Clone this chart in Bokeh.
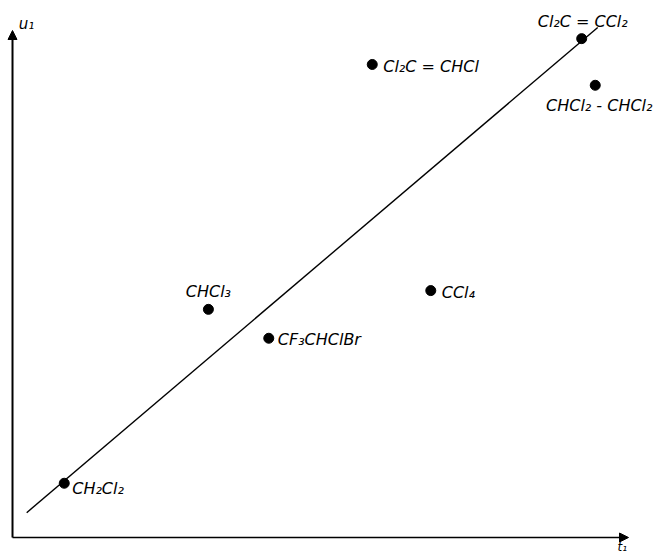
from bokeh.plotting import figure
from bokeh.models import Arrow, NormalHead, ColumnDataSource, Range1d
from bokeh.core.properties import value
from bokeh.embed import file_html
from bokeh.resources import INLINE

# data (arbitrary units: t1 along x, u1 along y)
compounds = ["CH₂Cl₂", "CHCl₃", "CF₃CHClBr", "CCl₄", "Cl₂C = CHCl", "Cl₂C = CCl₂", "CHCl₂ - CHCl₂"]
t_vals = [0.84, 3.18, 4.16, 6.79, 5.84, 9.24, 9.46]
u_vals = [1.07, 4.50, 3.93, 4.87, 9.33, 9.84, 8.92]

# regression line end points
line_t = [0.23, 9.50]
line_u = [0.49, 10.06]

axis_label_x = "t₁"
axis_label_y = "u₁"

# label styling (pixel offsets, alignment)
lab_dx = [8, 0, 9, 11, 11, 1, 4]
lab_dy = [5, -8, 1, 2, 2, -8, 11]
lab_align = ["left", "center", "left", "left", "left", "center", "center"]
lab_base = ["middle", "bottom", "middle", "middle", "middle", "bottom", "top"]

FONT = "DejaVu Sans"

p = figure(width=663, height=555, output_backend="svg", toolbar_location=None,
           min_border=0, x_range=Range1d(-0.195, 10.568), y_range=Range1d(-0.355, 10.592))
p.axis.visible = False
p.grid.visible = False
p.outline_line_color = None
p.background_fill_color = "white"

# axes with arrows
p.add_layout(Arrow(end=NormalHead(size=9, fill_color="black", line_color="black"),
                   x_start=0, y_start=0, x_end=0, y_end=10, line_width=2, line_color="black"))
p.add_layout(Arrow(end=NormalHead(size=9, fill_color="black", line_color="black"),
                   x_start=0, y_start=0, x_end=10, y_end=0, line_width=1.6, line_color="black"))

# regression line
p.line(line_t, line_u, line_color="black", line_width=1.4)

src = ColumnDataSource(dict(t=t_vals, u=u_vals, name=compounds, dx=lab_dx, dy=lab_dy,
                            align=lab_align, base=lab_base))
p.scatter("t", "u", source=src, size=10, color="black")
p.text("t", "u", text="name", source=src, x_offset="dx", y_offset="dy",
       text_align="align", text_baseline="base", text_font=value(FONT),
       text_font_style="italic", text_font_size="16px", text_color="black")

# axis labels
p.text([0.1], [9.96], text=[axis_label_y], text_font=value(FONT), text_font_style="italic",
       text_font_size="15px", text_align="left", text_baseline="bottom", text_color="black")
p.text([9.9], [0], text=[axis_label_x], text_font=value(FONT), text_font_style="italic",
       text_font_size="12px", text_align="center", text_baseline="top", y_offset=2, text_color="black")

open("out.html", "w").write(file_html(p, INLINE))
